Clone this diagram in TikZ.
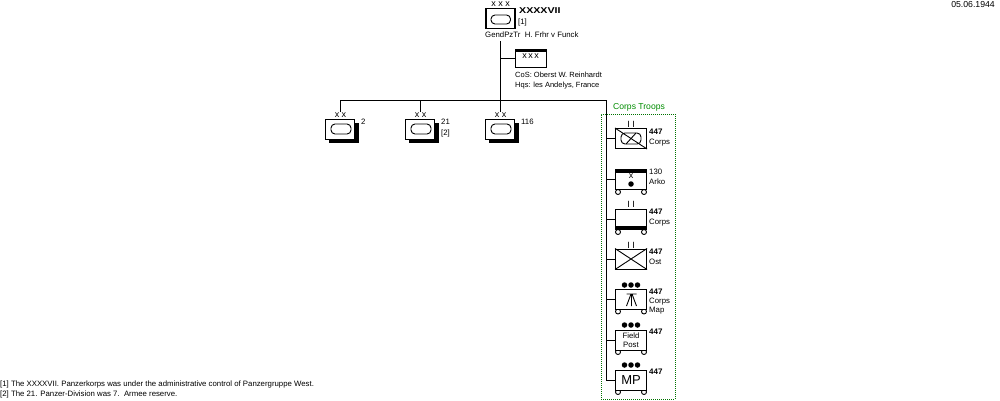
\documentclass[tikz,border=0pt]{standalone}
\usepackage{fontspec}
\setmainfont{Liberation Sans}
\newfontfamily\widebold[FakeStretch=1.25]{Liberation Sans Bold}
\tikzset{
  x=1pt,y=-1pt,
  lbl/.style={font=\fontsize{7.8}{8}\selectfont,anchor=west,inner sep=0pt,text height=5.5pt,text depth=0pt},
  coslbl/.style={lbl,font=\fontsize{7.5}{8}\selectfont},
  boldlbl/.style={lbl,font=\fontsize{8}{8}\selectfont\bfseries},
  conn/.style={line width=1pt},
  unit/.style={draw,line width=1pt,fill=white,inner sep=0pt,minimum width=31pt,minimum height=20pt},
  div/.style={draw,line width=1pt,fill=white,inner sep=0pt,minimum width=29pt,minimum height=20pt},
  oval/.style={draw,line width=.9pt,rounded corners=4pt},
  symline/.style={line width=.9pt},
  echelon/.style={font=\fontsize{9}{9}\selectfont,inner sep=0pt},
  wheel/.style={draw,line width=.9pt,fill=white,circle,inner sep=0pt,minimum size=5pt},
  pip/.style={fill=black,circle,inner sep=0pt,minimum size=5.5pt},
}
\begin{document}
\begin{tikzpicture}
\useasboundingbox (0,0) rectangle (1000,400);
\node[lbl,anchor=east,font=\fontsize{8.7}{9}\selectfont] (date) at (995,5) {05.06.1944};
% dotted frame
\node[draw=green!45!black,dash pattern=on 1pt off 1pt,line width=1pt,inner sep=0pt,minimum width=74pt,minimum height=285pt] (frame) at (638,256.5) {};
\node[lbl,text=green!55!black,anchor=center,font=\fontsize{8.6}{9}\selectfont] (ct) at (639,107) {Corps Troops};
% corps HQ
\node[div,line width=1.3pt,minimum width=29pt] (hq) at (500.5,18.5) {};
\draw[oval] (491,15) rectangle (510.5,24);
\node[echelon] (hqe) at (500.5,4.5) {x x x};
\node[lbl,font=\fontsize{8.5}{9}\widebold] (hqn) at (519,11) {XXXXVII};
\node[lbl] (hqf) at (518,22) {[1]};
\node[lbl] (hqc) at (485,35) {GendPzTr\ \ H. Frhr v Funck};
\coordinate (t0) at (500,41);
\coordinate (t1) at (500,100);
\node[unit,minimum height=18pt] (cos) at (530.5,58) {};
\fill (515,49) rectangle (546,52);
\node[echelon] (cose) at (530.5,56.5) {x\,x\,x};
\node[coslbl] (cosl) at (515,75) {CoS:  Oberst W. Reinhardt};
\node[coslbl] (hqsl) at (515,85) {Hqs:  les Andelys, France};
\draw[conn] (t0) -- (t1);
\draw[conn] (t0 |- cos.west) -- (cos.west);
% divisions
\fill (329,123) rectangle (359,143);
\node[div] (d2) at (340,129) {};
\draw[oval] (331,124) rectangle (351,134);
\node[echelon] (d2e) at (340.5,115) {x x};
\node[lbl] (d2l) at (361,122) {2};
\fill (409,123) rectangle (439,143);
\node[div] (d21) at (420,129) {};
\draw[oval] (411,124) rectangle (431,134);
\node[echelon] (d21e) at (420.5,115) {x x};
\node[lbl] (d21l) at (441,122) {21};
\node[lbl] (d21f) at (441,133) {[2]};
\fill (489,123) rectangle (519,143);
\node[div] (d116) at (500,129) {};
\draw[oval] (491,124) rectangle (511,134);
\node[echelon] (d116e) at (500.5,115) {x x};
\node[lbl] (d116l) at (521,122) {116};
\coordinate (h0) at (340,100);
\coordinate (h1) at (606,100);
\coordinate (b7) at (606,380);
\draw[conn] (h0) -- (h1) -- (b7);
\draw[conn] (h0) -- (h0 |- d2e.north);
\draw[conn] (420,100) -- (420,111.5);
\draw[conn] (t1) -- (500,111.5);
% corps troops
\node[unit] (u1) at (631,138.5) {};
\draw[symline] (u1.north west) -- (u1.south east);
\draw[oval] (621,133) rectangle (641,144);
\draw[symline] (626,144) -- (636,133);
\node[echelon] (u1e) at (631,124) {I I};
\node[boldlbl] (u1a) at (649,132) {447};
\node[lbl] (u1b) at (649,142) {Corps};
\node[wheel] (w2a) at (618,192) {};
\node[wheel] (w2b) at (644,192) {};
\node[unit] (u2) at (631,179.5) {};
\fill (615.5,169) rectangle (646.5,172.5);
\node[echelon] (u2e) at (631,176.5) {x};
\node[pip] (u2p) at (631,184) {};
\node[lbl] (u2a) at (649,172) {130};
\node[lbl] (u2b) at (649,182) {Arko};
\node[wheel] (w3a) at (618,232) {};
\node[wheel] (w3b) at (644,232) {};
\node[unit] (u3) at (631,219.5) {};
\fill (615.5,226) rectangle (646.5,230);
\node[echelon] (u3e) at (631,204) {I I};
\node[boldlbl] (u3a) at (649,212) {447};
\node[lbl] (u3b) at (649,222) {Corps};
\node[unit] (u4) at (631,259) {};
\draw[symline] (u4.north west) -- (u4.south east) (u4.south west) -- (u4.north east);
\node[echelon] (u4e) at (631,245) {I I};
\node[boldlbl] (u4a) at (649,252) {447};
\node[lbl] (u4b) at (649,262) {Ost};
\node[wheel] (w5a) at (618,311.5) {};
\node[wheel] (w5b) at (644,311.5) {};
\node[unit] (u5) at (631,299) {};
\node[pip] at (624.5,285) {};\node[pip] at (631,285) {};\node[pip] at (637.5,285) {};
\draw[symline] (626.5,294) -- (636.5,294) (631.5,294) -- (631.5,306) (631,294) -- (626.5,306) (632,294) -- (636.5,306);
\node[boldlbl] (u5a) at (649,292) {447};
\node[lbl] (u5b) at (649,301) {Corps};
\node[lbl] (u5c) at (649,310) {Map};
\node[wheel] (w6a) at (618,352) {};
\node[wheel] (w6b) at (644,352) {};
\node[unit,align=center,font=\fontsize{7.8}{9}\selectfont] (u6) at (631,340) {Field\\Post};
\node[pip] at (624.5,325) {};\node[pip] at (631,325) {};\node[pip] at (637.5,325) {};
\node[boldlbl] (u6a) at (649,332) {447};
\node[wheel] (w7a) at (618,392) {};
\node[wheel] (w7b) at (644,392) {};
\node[unit,font=\fontsize{13}{13}\selectfont] (u7) at (631,380) {MP};
\node[pip] at (624.5,365) {};\node[pip] at (631,365) {};\node[pip] at (637.5,365) {};
\node[boldlbl] (u7a) at (649,372) {447};
\foreach \u in {u1,u2,u3,u4,u5,u6,u7} \draw[conn] (b7 |- \u.west) -- (\u.west);
% notes
\node[lbl] (n1) at (0,384) {[1] The XXXXVII. Panzerkorps was under the administrative control of Panzergruppe West.};
\node[lbl] (n2) at (0,394) {[2] The 21. Panzer-Division was 7.\ \ Armee reserve.};
\end{tikzpicture}
\end{document}
